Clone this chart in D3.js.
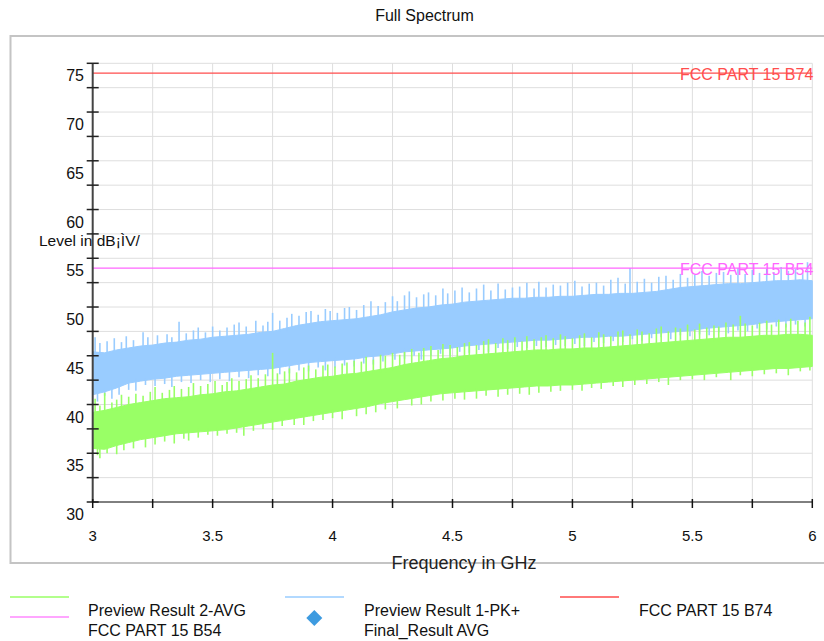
<!DOCTYPE html>
<html><head><meta charset="utf-8">
<script src="https://cdn.jsdelivr.net/npm/d3@7"></script>
<style>
body{margin:0;background:#fff}
text{font-family:"Liberation Sans",Arial,Helvetica,sans-serif;fill:#111}
</style>
</head><body><svg id="chart" width="824" height="641"></svg>
<script>
// ---- data ----
const freqGHz = [3.00,3.05,3.10,3.15,3.20,3.25,3.30,3.35,3.40,3.45,3.50,3.55,3.60,3.65,3.70,3.75,3.80,3.85,3.90,3.95,
 4.00,4.05,4.10,4.15,4.20,4.25,4.30,4.35,4.40,4.45,4.50,4.55,4.60,4.65,4.70,4.75,4.80,4.85,4.90,4.95,
 5.00,5.05,5.10,5.15,5.20,5.25,5.30,5.35,5.40,5.45,5.50,5.55,5.60,5.65,5.70,5.75,5.80,5.85,5.90,5.95,6.00];

// Preview Result 1-PK+ : upper / lower edge of the dense trace core (dBµV)
const pkUpper = [45.4,45.3,45.6,45.8,46.0,46.1,46.3,46.4,46.6,46.7,46.9,47.0,47.1,47.2,47.4,47.5,47.8,48.1,48.3,48.5,
 48.6,48.7,48.8,49.0,49.2,49.5,49.7,49.9,50.0,50.2,50.3,50.5,50.6,50.7,50.8,50.9,50.9,51.0,51.0,51.1,
 51.1,51.2,51.3,51.3,51.4,51.4,51.5,51.6,51.8,52.0,52.1,52.2,52.3,52.4,52.4,52.5,52.6,52.7,52.7,52.8,52.7];
const pkLower = [41.0,41.3,41.7,42.2,42.4,42.6,42.7,42.9,43.0,43.1,43.2,43.3,43.4,43.5,43.6,43.7,43.9,44.1,44.3,44.4,
 44.5,44.6,44.7,44.9,45.0,45.2,45.4,45.5,45.6,45.7,45.8,46.0,46.1,46.2,46.3,46.4,46.5,46.6,46.6,46.7,
 46.8,46.9,46.9,47.0,47.0,47.1,47.2,47.3,47.4,47.5,47.6,47.8,47.9,48.0,48.1,48.2,48.4,48.5,48.6,48.7,48.8];

// Preview Result 2-AVG : upper / lower edge of the dense trace core (dBµV)
const avgUpper = [39.2,39.4,39.7,40.0,40.2,40.4,40.6,40.7,40.8,41.0,41.1,41.3,41.4,41.6,41.8,42.0,42.1,42.4,42.6,42.8,
 42.9,43.1,43.2,43.4,43.6,43.8,44.1,44.3,44.5,44.7,44.8,45.0,45.1,45.2,45.3,45.4,45.5,45.6,45.6,45.7,
 45.7,45.8,45.8,45.9,46.0,46.1,46.2,46.3,46.4,46.5,46.6,46.7,46.8,46.9,46.9,47.0,47.1,47.1,47.2,47.2,47.1];
const avgLower = [35.5,35.4,35.8,36.1,36.4,36.6,36.8,37.0,37.1,37.2,37.3,37.4,37.6,37.8,38.0,38.2,38.4,38.6,38.8,39.0,
 39.2,39.4,39.6,39.8,40.1,40.3,40.5,40.7,40.9,41.1,41.2,41.3,41.4,41.5,41.6,41.7,41.8,41.9,41.9,42.0,
 42.0,42.1,42.2,42.3,42.4,42.5,42.6,42.7,42.8,42.9,43.0,43.1,43.2,43.3,43.4,43.5,43.6,43.7,43.7,43.8,43.9];

// noise spikes sticking out of the trace cores [GHz, dBµV]
const pkPeaks = [[3.01,46.9],[3.03,46.3],[3.06,46.5],[3.09,46.8],[3.12,46.4],[3.14,47.0],[3.17,46.6],[3.21,47.4],[3.23,46.9],[3.27,47.1],
 [3.31,47.2],[3.33,46.9],[3.36,48.5],[3.39,47.3],[3.42,47.6],[3.44,47.9],[3.47,47.4],[3.50,48.0],[3.53,47.6],[3.56,47.9],
 [3.59,48.2],[3.61,48.4],[3.64,48.0],[3.68,48.6],[3.71,48.1],[3.73,48.5],[3.75,49.4],[3.78,48.6],[3.81,48.9],[3.83,49.3],
 [3.86,49.1],[3.89,49.5],[3.91,49.6],[3.94,49.2],[3.97,49.8],[3.99,49.6],[4.02,49.4],[4.05,49.9],[4.07,50.0],[4.10,49.7],
 [4.13,50.2],[4.16,50.6],[4.19,50.1],[4.22,50.5],[4.25,51.1],[4.27,50.6],[4.30,51.2],[4.32,51.6],[4.35,51.0],[4.38,51.3],
 [4.40,51.5],[4.43,51.2],[4.46,51.9],[4.48,51.4],[4.51,51.7],[4.54,52.0],[4.57,51.5],[4.60,51.9],[4.63,52.3],[4.66,51.7],
 [4.69,52.4],[4.72,51.8],[4.75,52.0],[4.78,52.1],[4.81,52.5],[4.84,51.9],[4.86,52.6],[4.89,52.0],[4.92,52.3],[4.95,52.2],
 [4.98,52.5],[5.01,52.7],[5.04,52.1],[5.07,52.4],[5.10,52.5],[5.13,52.2],[5.16,52.8],[5.19,53.0],[5.22,52.4],[5.24,54.0],
 [5.27,52.6],[5.30,52.9],[5.33,52.5],[5.36,53.1],[5.39,53.2],[5.42,52.8],[5.45,53.4],[5.48,53.0],[5.51,53.3],[5.54,53.7],
 [5.57,53.2],[5.60,53.5],[5.63,53.6],[5.66,53.3],[5.69,54.0],[5.72,53.4],[5.75,53.8],[5.78,53.5],[5.81,53.9],[5.84,53.6],
 [5.87,54.1],[5.90,53.7],[5.93,53.9],[5.96,53.5],[5.98,54.6]];
const pkDips = [[3.02,40.3],[3.05,40.9],[3.08,40.6],[3.11,41.0],[3.15,41.5],[3.18,41.4],[3.22,42.0],[3.26,41.9],[3.30,42.1],[3.33,41.8],
 [3.37,42.3],[3.41,42.2],[3.45,42.5],[3.49,42.3],[3.53,42.6],[3.57,42.4],[3.61,42.8],[3.65,42.7],[3.69,43.0],[3.73,42.9],
 [3.78,43.1],[3.82,43.2],[3.86,43.5],[3.90,43.4],[3.94,43.8],[3.97,43.5],[4.01,43.8],[4.05,44.0],[4.09,43.9],[4.13,44.2],
 [4.17,44.1],[4.21,44.4],[4.26,44.6],[4.30,44.7],[4.34,45.0],[4.37,44.6],[4.41,45.0],[4.45,45.2],[4.49,45.0],[4.53,45.4],
 [4.57,45.3],[4.61,45.6],[4.65,45.4],[4.69,45.8],[4.73,45.7],[4.77,45.9],[4.81,45.8],[4.85,46.0],[4.89,45.9],[4.93,46.1],
 [4.97,46.0],[5.01,46.2],[5.05,46.0],[5.09,46.4],[5.13,46.3],[5.17,46.5],[5.21,46.4],[5.25,46.7],[5.29,46.5],[5.33,46.8],
 [5.37,46.9],[5.41,46.7],[5.45,47.1],[5.49,47.0],[5.53,47.2],[5.57,47.1],[5.61,47.4],[5.65,47.3],[5.69,47.6],[5.73,47.5],
 [5.77,47.8],[5.81,47.7],[5.85,48.0],[5.89,47.9],[5.93,48.2],[5.97,48.0]];
const avgPeaks = [[3.01,40.6],[3.03,39.9],[3.05,41.2],[3.08,40.2],[3.10,40.5],[3.12,41.0],[3.15,40.8],[3.18,41.1],[3.21,40.9],[3.24,41.3],
 [3.26,41.8],[3.29,41.2],[3.32,41.5],[3.34,41.9],[3.37,41.6],[3.40,41.8],[3.42,42.2],[3.45,41.9],[3.48,42.1],[3.51,42.4],
 [3.54,42.0],[3.56,42.3],[3.58,42.7],[3.61,42.4],[3.64,42.6],[3.66,43.0],[3.69,42.7],[3.72,43.1],[3.75,45.3],[3.77,43.2],
 [3.80,43.4],[3.82,43.7],[3.85,43.3],[3.88,43.8],[3.90,44.0],[3.93,43.6],[3.96,44.0],[3.98,44.1],[4.01,43.9],[4.04,44.2],
 [4.06,44.3],[4.09,44.5],[4.12,44.4],[4.14,44.9],[4.17,44.6],[4.20,45.1],[4.22,45.0],[4.25,45.3],[4.28,45.1],[4.30,45.4],
 [4.33,45.7],[4.36,45.3],[4.38,45.8],[4.41,46.0],[4.44,45.6],[4.46,46.2],[4.49,46.1],[4.52,45.9],[4.55,46.3],[4.57,46.4],
 [4.60,46.1],[4.63,46.5],[4.65,46.7],[4.68,46.3],[4.71,46.8],[4.73,46.6],[4.76,46.9],[4.79,46.5],[4.81,47.0],[4.84,46.7],
 [4.87,46.9],[4.89,47.1],[4.92,46.8],[4.95,47.2],[4.97,47.0],[5.00,46.8],[5.03,47.1],[5.05,47.3],[5.08,46.9],[5.11,47.4],
 [5.13,47.2],[5.16,47.0],[5.19,47.5],[5.21,47.6],[5.24,47.2],[5.27,47.7],[5.29,47.5],[5.32,47.3],[5.35,47.8],[5.37,48.0],
 [5.40,47.5],[5.43,47.9],[5.45,47.8],[5.48,48.2],[5.51,47.7],[5.53,48.3],[5.56,47.9],[5.59,48.1],[5.61,48.0],[5.64,48.4],
 [5.67,48.2],[5.70,49.1],[5.72,48.3],[5.75,48.1],[5.78,48.4],[5.81,48.6],[5.83,48.2],[5.86,48.7],[5.89,48.3],[5.91,48.8],
 [5.94,48.6],[5.97,48.4],[5.99,49.0]];
const avgDips = [[3.02,34.8],[3.03,34.5],[3.06,35.0],[3.10,34.9],[3.13,35.3],[3.17,35.5],[3.22,35.6],[3.26,35.9],[3.30,36.2],[3.34,36.0],
 [3.38,36.5],[3.40,36.3],[3.44,36.6],[3.48,36.9],[3.52,36.8],[3.56,37.0],[3.60,37.1],[3.63,36.8],[3.67,37.3],[3.71,37.5],
 [3.75,37.4],[3.79,37.8],[3.84,37.9],[3.88,37.9],[3.92,38.3],[3.96,38.4],[4.00,38.6],[4.04,38.5],[4.10,38.8],[4.14,39.0],
 [4.18,39.2],[4.22,39.5],[4.27,39.6],[4.33,39.9],[4.37,40.0],[4.41,40.3],[4.46,40.4],[4.51,40.6],[4.55,40.5],[4.60,40.6],
 [4.64,40.9],[4.69,40.8],[4.73,41.0],[4.78,41.1],[4.82,41.0],[4.86,41.2],[4.91,41.3],[4.95,41.4],[5.00,41.5],[5.04,41.4],
 [5.08,41.7],[5.12,41.6],[5.17,41.9],[5.21,41.8],[5.26,42.0],[5.31,42.1],[5.36,42.3],[5.40,42.0],[5.45,42.5],[5.50,42.6],
 [5.55,42.5],[5.60,42.8],[5.66,42.5],[5.70,43.0],[5.75,42.9],[5.80,43.1],[5.85,43.2],[5.90,43.0],[5.95,43.4],[5.99,43.5]];

const limitNames = ["FCC PART 15 B74","FCC PART 15 B54"];
const limitValues = [74,54];
const limitColors = ["#ff4d4d","#ff66ff"];

const xGridTicks = [3.25,3.5,3.75,4,4.25,4.5,4.75,5,5.25,5.5,5.75,6];
const xTickMarks = [3,3.25,3.5,3.75,4,4.25,4.5,4.75,5,5.25,5.5,5.75,6];
const xTickLabels = [3,3.5,4,4.5,5,5.5,6];
const yGridTicks = [30,32.5,35,37.5,40,42.5,45,47.5,50,52.5,55,57.5,60,62.5,65,67.5,70,72.5,75];
const yTickLabels = [30,35,40,45,50,55,60,65,70,75];

const legendNames = ["Preview Result 2-AVG","FCC PART 15 B54","Preview Result 1-PK+","Final_Result AVG","FCC PART 15 B74"];

// ---- drawing ----
const svg = d3.select("#chart");
const x = d3.scaleLinear().domain([3,6]).range([92.7,812.3]);
const y = d3.scaleLinear().domain([30,75]).range([502,63.3]);

// outer frame
svg.append("rect").attr("x",10.5).attr("y",36).attr("width",830).attr("height",527)
  .attr("fill","#fff").attr("stroke","#c4c4c4").attr("stroke-width",2);

// title
svg.append("text").attr("x",424.5).attr("y",15).attr("dominant-baseline","central")
  .attr("text-anchor","middle").style("font-size","16px").text("Full Spectrum");

// grid
const grid = svg.append("g").attr("stroke","#dedede").attr("stroke-width",1);
grid.selectAll("line.h").data(yGridTicks).join("line").attr("class","h")
  .attr("x1",x(3)).attr("x2",x(6)).attr("y1",d=>y(d)).attr("y2",d=>y(d));
grid.selectAll("line.v").data(xGridTicks).join("line").attr("class","v")
  .attr("x1",d=>x(d)).attr("x2",d=>x(d)).attr("y1",y(75)).attr("y2",y(30));

// traces
const idx = f => Math.round((f-3)/0.05);
function band(upper, lower, peaks, dips, color){
  const g = svg.append("g");
  const data = freqGHz.map((f,i)=>({f, u:upper[i], l:lower[i]}));
  g.append("path").datum(data)
    .attr("d", d3.area().x(d=>x(d.f)).y0(d=>y(d.l)).y1(d=>y(d.u)))
    .attr("fill", color).attr("stroke", color).attr("stroke-width",1);
  g.selectAll("line.p").data(peaks).join("line").attr("class","p")
    .attr("x1",d=>x(d[0])).attr("x2",d=>x(d[0]))
    .attr("y1",d=>y(d[1])).attr("y2",d=>y(upper[idx(d[0])]-0.3))
    .attr("stroke",color).attr("stroke-width",1.6);
  g.selectAll("line.d").data(dips).join("line").attr("class","d")
    .attr("x1",d=>x(d[0])).attr("x2",d=>x(d[0]))
    .attr("y1",d=>y(d[1])).attr("y2",d=>y(lower[idx(d[0])]+0.3))
    .attr("stroke",color).attr("stroke-width",1.6);
}
band(pkUpper, pkLower, pkPeaks, pkDips, "#99ccff");
band(avgUpper, avgLower, avgPeaks, avgDips, "#99ff66");

// limit lines
limitValues.forEach((v,i)=>{
  svg.append("line").attr("x1",x(3)).attr("x2",x(6)).attr("y1",y(v)).attr("y2",y(v))
    .attr("stroke",limitColors[i]).attr("stroke-width",1.2);
  svg.append("text").attr("x",x(6)+1).attr("y",y(v)+1).attr("text-anchor","end")
    .attr("dominant-baseline","central").style("font-size","16px").style("fill",limitColors[i])
    .text(limitNames[i]);
});

// y axis
svg.append("line").attr("x1",x(3)).attr("x2",x(3)).attr("y1",y(75)).attr("y2",y(30))
  .attr("stroke","#444").attr("stroke-width",2);
svg.selectAll("line.yt").data(yGridTicks).join("line").attr("class","yt")
  .attr("x1",x(3)-6).attr("x2",x(3)+6).attr("y1",d=>y(d)).attr("y2",d=>y(d))
  .attr("stroke","#222").attr("stroke-width",1.5);
svg.selectAll("text.yl").data(yTickLabels).join("text").attr("class","yl")
  .attr("x",84).attr("y",d=>y(d)+12.5).attr("text-anchor","end").attr("dominant-baseline","central")
  .style("font-size","16px").text(d=>d);

// x axis
svg.append("line").attr("x1",x(3)).attr("x2",x(6)).attr("y1",y(30)).attr("y2",y(30))
  .attr("stroke","#111").attr("stroke-width",1);
svg.selectAll("line.xt").data(xTickMarks).join("line").attr("class","xt")
  .attr("x1",d=>x(d)).attr("x2",d=>x(d)).attr("y1",y(30)-3).attr("y2",y(30)+6)
  .attr("stroke","#111").attr("stroke-width",1.5);
svg.selectAll("text.xl").data(xTickLabels).join("text").attr("class","xl")
  .attr("x",d=>x(d)).attr("y",535).attr("text-anchor","middle").attr("dominant-baseline","central")
  .style("font-size","15px").text(d=>d);

// axis titles
svg.append("text").attr("x",39).attr("y",240).attr("dominant-baseline","central")
  .style("font-size","15.5px").text("Level in dB¡ÌV/");
svg.append("text").attr("x",464).attr("y",563).attr("text-anchor","middle").attr("dominant-baseline","central")
  .style("font-size","18px").style("fill","#222").text("Frequency in GHz");

// legend
const lg = svg.append("g");
function legLine(x1,x2,yy,c,w){ lg.append("line").attr("x1",x1).attr("x2",x2).attr("y1",yy).attr("y2",yy).style("stroke",c).style("stroke-width",w); }
function legText(xx,yy,t){ lg.append("text").attr("x",xx).attr("y",yy).attr("dominant-baseline","central").style("font-size","16px").text(t); }
legLine(10,69,597,"#99ff66",1.3);
legLine(10,69,617,"#ff88ff",1.6);
legText(88,610,legendNames[0]);
legText(88,630,legendNames[1]);
legLine(285,344,597,"#99ccff",1.3);
lg.append("path").attr("d","M314.3,610 L322.3,618 L314.3,626 L306.3,618 Z").attr("fill","#3d9be0");
legText(364,610,legendNames[2]);
legText(364,630,legendNames[3]);
legLine(560,619,597,"#ff4d4d",1.3);
legText(639,610,legendNames[4]);
</script></body></html>
